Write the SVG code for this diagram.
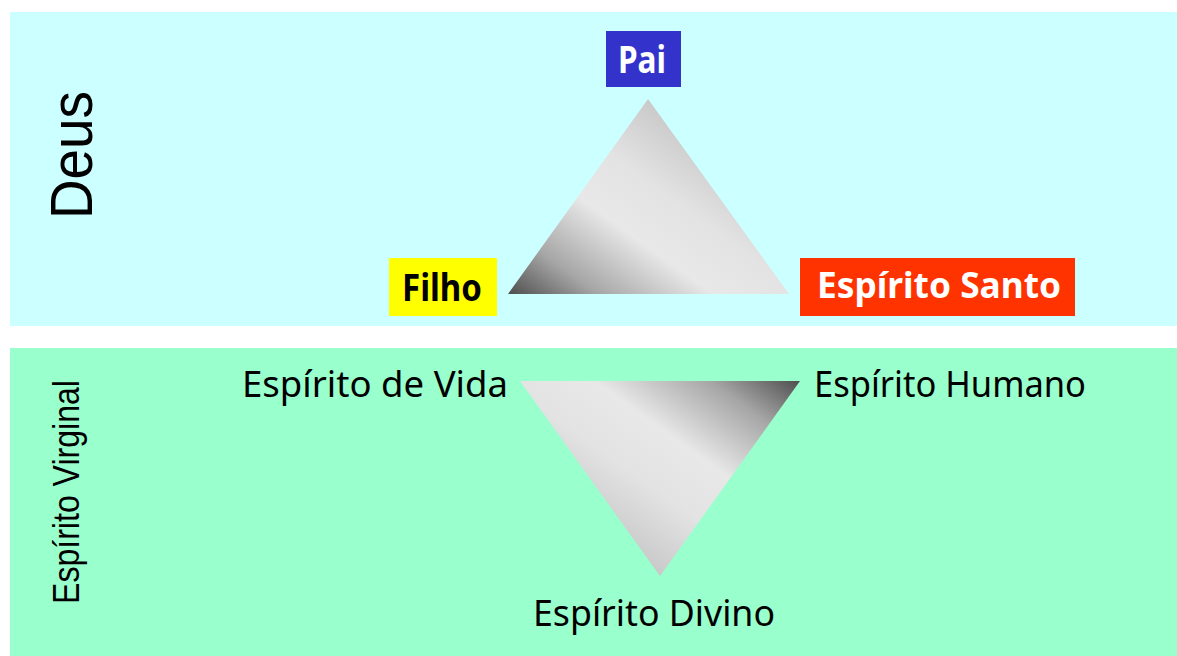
<svg xmlns="http://www.w3.org/2000/svg" width="1177" height="656" viewBox="0 0 1177 656">
<style>
.side{font-family:"Liberation Sans",Arial,sans-serif;fill:#000}
.lbl{font-family:"Noto Sans","DejaVu Sans",sans-serif;font-size:37px;fill:#000}
.bold{font-family:"Noto Sans","DejaVu Sans",sans-serif;font-weight:bold}
</style>
<defs>
<linearGradient id="gUp" gradientUnits="userSpaceOnUse" x1="508" y1="294" x2="648" y2="99">
<stop offset="0" stop-color="#4e4e4e"/>
<stop offset="0.22" stop-color="#a6a6a6"/>
<stop offset="0.5" stop-color="#e8e8e8"/>
<stop offset="0.72" stop-color="#e3e3e3"/>
<stop offset="1" stop-color="#c9c9c9"/>
</linearGradient>
<linearGradient id="gDown" gradientUnits="userSpaceOnUse" x1="800" y1="381" x2="660" y2="576">
<stop offset="0" stop-color="#4e4e4e"/>
<stop offset="0.22" stop-color="#a6a6a6"/>
<stop offset="0.5" stop-color="#e8e8e8"/>
<stop offset="0.72" stop-color="#e3e3e3"/>
<stop offset="1" stop-color="#c9c9c9"/>
</linearGradient>
</defs>
<rect width="1177" height="656" fill="#ffffff"/>
<g id="panel-deus">
<rect x="10" y="12" width="1167" height="314" fill="#CCFFFF"/>
<text class="side" font-size="60" text-anchor="middle" textLength="128" lengthAdjust="spacingAndGlyphs" transform="translate(92,155) rotate(-90)">Deus</text>
</g>
<g id="panel-espirito-virginal">
<rect x="10" y="348" width="1167" height="308" fill="#99FFCC"/>
<text class="side" font-size="36" text-anchor="middle" textLength="224" lengthAdjust="spacingAndGlyphs" transform="translate(79,492) rotate(-90)">Espírito Virginal</text>
</g>
<g id="triangle-deus">
<polygon points="648,99 508,294 789,294" fill="url(#gUp)"/>
</g>
<g id="triangle-virginal">
<polygon points="520,381 800,381 660,576" fill="url(#gDown)"/>
</g>
<g id="node-pai">
<rect x="606" y="31" width="75" height="56" fill="#3333CC"/>
<text class="bold" font-size="38" x="618" y="73" fill="#ffffff" textLength="48" lengthAdjust="spacingAndGlyphs">Pai</text>
</g>
<g id="node-filho">
<rect x="389" y="258" width="108" height="58" fill="#FFFF00"/>
<text class="bold" font-size="38" x="402" y="301" fill="#000000" textLength="80" lengthAdjust="spacingAndGlyphs">Filho</text>
</g>
<g id="node-espirito-santo">
<rect x="800" y="258" width="275" height="58" fill="#FF3300"/>
<text class="bold" font-size="35" x="817" y="298" fill="#ffffff" textLength="244" lengthAdjust="spacingAndGlyphs">Espírito Santo</text>
</g>
<g id="node-espirito-de-vida">
<text class="lbl" x="242" y="397" textLength="266" lengthAdjust="spacingAndGlyphs">Espírito de Vida</text>
</g>
<g id="node-espirito-humano">
<text class="lbl" x="814" y="397" textLength="272" lengthAdjust="spacingAndGlyphs">Espírito Humano</text>
</g>
<g id="node-espirito-divino">
<text class="lbl" x="533" y="626" textLength="242" lengthAdjust="spacingAndGlyphs">Espírito Divino</text>
</g>
</svg>
